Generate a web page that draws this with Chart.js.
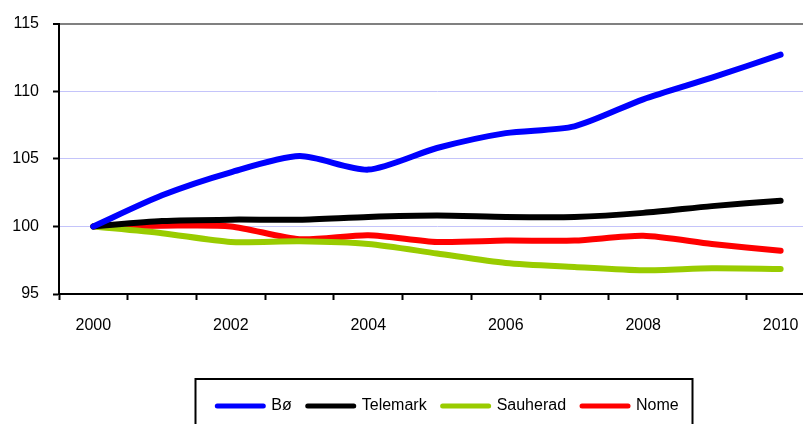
<!DOCTYPE html>
<html>
<head>
<meta charset="utf-8">
<script src="https://cdn.jsdelivr.net/npm/chart.js@4/dist/chart.umd.min.js"></script>
<style>
	html, body { margin: 0; padding: 0; background: #fff; overflow: hidden; }
	.chart-wrap { position: relative; width: 830px; height: 440px; }
</style>
</head>
<body>
<div class="chart-wrap"><canvas id="chart"></canvas></div>
<script>
"use strict";
// Index, 2000 = 100
var years = ['2000', '2001', '2002', '2003', '2004', '2005', '2006', '2007', '2008', '2009', '2010'];
var bo = [100, 102.3, 104.0, 105.2, 104.2, 105.8, 106.9, 107.4, 109.4, 111.0, 112.7];
var telemark = [100, 100.4, 100.5, 100.5, 100.7, 100.8, 100.7, 100.7, 101.0, 101.5, 101.9];
var sauherad = [100, 99.5, 98.85, 98.9, 98.7, 98.0, 97.3, 97.0, 96.75, 96.9, 96.85];
var nome = [100, 100.05, 100.0, 99.05, 99.35, 98.85, 98.95, 98.95, 99.3, 98.7, 98.2];
var seriesNames = ['Bø', 'Telemark', 'Sauherad', 'Nome'];
var seriesColors = ['#0000ff', '#000000', '#99cc00', '#ff0000'];
var yTicks = [95, 100, 105, 110, 115];

Chart.defaults.font.family = "'Liberation Sans', Arial, sans-serif";
Chart.defaults.font.size = 16;
Chart.defaults.color = '#000';

function makeSet(i, data) {
	return {
		label: seriesNames[i],
		data: data,
		borderColor: seriesColors[i],
		backgroundColor: seriesColors[i],
		borderWidth: 6,
		borderCapStyle: 'round',
		pointRadius: 0,
		pointHoverRadius: 0,
		tension: 0.25,
		fill: false
	};
}

// nudge the legend a bit right and put a frame round it, like the original
var legendFrame = {
	id: 'legendFrame',
	afterLayout: function(chart) {
		var lg = chart.legend;
		if (!lg) return;
		lg.left += 11;
		lg.right += 11;
	},
	afterDraw: function(chart) {
		var lg = chart.legend;
		if (!lg || !lg.legendHitBoxes.length) return;
		var hb = lg.legendHitBoxes;
		var last = hb[hb.length - 1];
		var x0 = Math.round(hb[0].left - 22) + 0.5;
		var x1 = Math.round(last.left + last.width + 13) + 0.5;
		var y0 = Math.round(lg.top - 3);
		var ctx = chart.ctx;
		ctx.save();
		ctx.strokeStyle = '#000';
		ctx.lineWidth = 2;
		ctx.strokeRect(x0, y0, x1 - x0, chart.height + 10 - y0);
		ctx.restore();
	}
};

var ctx = document.getElementById('chart').getContext('2d');
new Chart(ctx, {
	type: 'line',
	data: {
		labels: years,
		datasets: [makeSet(0, bo), makeSet(1, telemark), makeSet(2, sauherad), makeSet(3, nome)]
	},
	options: {
		responsive: true,
		maintainAspectRatio: false,
		devicePixelRatio: 1,
		animation: false,
		layout: {
			padding: {top: 23, right: 15, bottom: 16, left: 0}
		},
		plugins: {
			legend: {
				position: 'bottom',
				fullSize: false,
				labels: {
					usePointStyle: true,
					pointStyle: 'line',
					pointStyleWidth: 46,
					boxHeight: 6,
					padding: 16,
					color: '#000',
					generateLabels: function(chart) {
						var items = Chart.defaults.plugins.legend.labels.generateLabels(chart);
						items.forEach(function(it) {
							it.lineWidth = 5;
							it.lineCap = 'round';
							it.pointStyle = 'line';
						});
						return items;
					}
				}
			},
			tooltip: {enabled: false}
		},
		scales: {
			x: {
				type: 'category',
				offset: true,
				afterFit: function(scale) { scale.height = 88; },
				grid: {
					offset: true,
					drawOnChartArea: false,
					tickLength: 6,
					tickColor: '#000',
					tickWidth: 2
				},
				border: {color: '#000', width: 2},
				ticks: {
					autoSkip: false,
					maxRotation: 0,
					padding: 16,
					callback: function(value, index) {
						var lab = this.getLabelForValue(value);
						return index % 2 === 0 ? lab : '';
					}
				}
			},
			y: {
				min: 95,
				max: 115,
				afterFit: function(scale) { scale.width = 59; },
				afterBuildTicks: function(scale) {
					scale.ticks = yTicks.map(function(v) { return {value: v}; });
				},
				grid: {
					tickLength: 6,
					tickColor: '#000',
					tickWidth: 2,
					color: function(c) { return c.tick && c.tick.value === 115 ? '#808080' : '#c4c4fa'; },
					lineWidth: function(c) { return c.tick && c.tick.value === 115 ? 2 : 1; }
				},
				border: {color: '#000', width: 2},
				ticks: {
					padding: 14
				}
			}
		}
	},
	plugins: [legendFrame]
});
</script>
</body>
</html>
